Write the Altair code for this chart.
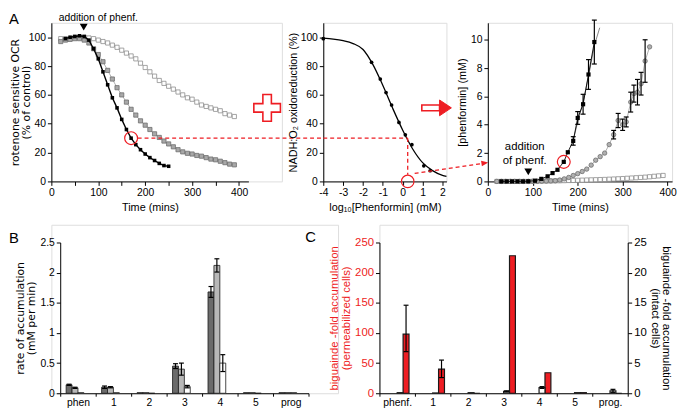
import altair as alt
import pandas as pd

FONT = "Liberation Sans"
WIDE = "DejaVu Sans"
RED = "#ee1d23"

# ---------------- data ----------------
# Panel A (left): rotenone sensitive OCR (% of control) vs time
a1_t_black = [30, 40, 50, 60, 70, 80, 90, 100, 110, 120, 130, 140, 150, 160, 170, 180, 190, 200, 210, 220, 230, 240, 250]
a1_y_black = [99, 100, 100.5, 101, 100.5, 98, 92, 85, 76, 67, 58, 51, 43, 36, 30, 25.5, 22, 19, 16.5, 14.5, 12.5, 11, 10.5]
a1_t_grey = [20, 30, 40, 50, 60, 70, 80, 90, 100, 110, 120, 130, 140, 150, 160, 170, 180, 190, 200, 210,
             220, 230, 240, 250, 260, 270, 280, 290, 300, 310, 320, 330, 340, 350, 360, 370, 380, 390]
a1_y_grey = [97, 98, 98.5, 99, 99, 98, 96, 92, 88, 83, 77, 71, 65, 60, 55, 50, 46, 42, 39, 36,
             33, 30.5, 28, 26, 24, 22, 20.5, 19.5, 19, 18, 17.5, 16.5, 15.5, 15, 14, 13, 12, 11.5]
a1_t_light = [20, 30, 40, 50, 60, 70, 80, 90, 100, 110, 120, 130, 140, 150, 160, 170, 180, 190, 200, 210,
              220, 230, 240, 250, 260, 270, 280, 290, 300, 310, 320, 330, 340, 350, 360, 370, 380, 390]
a1_y_light = [99, 99, 99, 100, 100, 100, 99.5, 99, 98, 97, 96, 94.5, 93, 91, 89, 87, 85, 82, 79, 76,
              73, 70, 68, 66, 64, 62, 60, 58, 57, 55, 53, 52, 51, 50, 49, 47, 46, 45]

# Panel A (middle): NADH:O2 oxidoreduction vs log10[phenformin]
a2_x = [-4.0, -1.57, -1.13, -0.84, -0.56, -0.19, 0.13, 0.46, 1.06, 1.38]
a2_y = [99, 82.6, 71, 61.6, 53, 40.9, 32.3, 25.5, 10.8, 7.4]
a2_curve_x = [-4, -3.5, -3, -2.5, -2, -1.5, -1, -0.5, 0, 0.5, 1, 1.5, 2, 2.2]
a2_curve_y = [99.3, 98.7, 97.6, 95.6, 91.5, 81, 66.5, 50.5, 35.5, 22.5, 13, 7.5, 4.2, 3.5]

# Panel A (right): [phenformin] (mM) vs time
a3_t_black = [30, 42, 54, 66, 78, 90, 105, 119, 133, 144, 155, 169, 178, 190, 200, 212, 224, 237]
a3_y_black = [0, 0, 0, 0, 0, 0.01, 0.05, 0.18, 0.36, 0.59, 0.82, 1.38, 2.06, 2.86, 4.48, 5.45, 7.55, 9.84]
a3_e_black = [0, 0, 0, 0, 0, 0, 0, 0, 0, 0, 0, 0, 0, 0.3, 0.45, 0.7, 1.05, 1.55]
a3_fit_black_t = [190, 200, 212, 224, 237, 249]
a3_fit_black_y = [2.9, 4.2, 5.6, 7.4, 9.6, 10.85]
a3_t_grey = [20, 30, 40, 50, 60, 70, 80, 90, 100, 110, 120, 130, 140, 150, 160, 170, 180, 190, 200, 210,
             220, 230, 240, 250, 260, 270, 280, 290, 300, 308, 318, 325, 333, 341, 350, 360]
a3_y_grey = [0, 0, 0, 0, 0, 0, 0, 0, 0.01, 0.01, 0.02, 0.03, 0.04, 0.05, 0.1, 0.18, 0.28, 0.42, 0.55, 0.7,
             0.87, 1.15, 1.5, 1.75, 2.0, 2.6, 3.3, 4.3, 4.0, 4.2, 5.6, 6.2, 6.3, 6.9, 8.5, 9.5]
a3_e_grey = [0, 0, 0, 0, 0, 0, 0, 0, 0, 0, 0, 0, 0, 0, 0, 0, 0, 0, 0, 0,
             0, 0, 0, 0, 0, 0, 0.3, 0.5, 0.4, 0.35, 0.7, 0.6, 0.9, 0.8, 1.5, 0]
a3_t_light = [20, 30, 40, 50, 60, 70, 80, 90, 100, 110, 120, 130, 140, 150, 160, 170, 180, 190, 200, 210,
              220, 230, 240, 250, 260, 270, 280, 290, 300, 310, 320, 330, 340, 350, 360, 370, 380, 390]
a3_y_light = [0, 0, 0, 0, 0, 0, 0, 0, 0.01, 0.015, 0.02, 0.025, 0.03, 0.04, 0.045, 0.055, 0.065, 0.07, 0.08, 0.09,
              0.1, 0.11, 0.12, 0.13, 0.14, 0.155, 0.17, 0.185, 0.2, 0.22, 0.24, 0.26, 0.28, 0.3, 0.33, 0.36, 0.39, 0.42]

# Panel B: rate of accumulation
b_cats = ["phen", "1", "2", "3", "4", "5", "prog"]
b_dark = [0.14, 0.10, 0.01, 0.45, 1.68, 0.01, 0.01]
b_dark_err = [0.01, 0.02, 0, 0.04, 0.09, 0, 0]
b_light = [0.09, 0.10, 0.01, 0.40, 2.12, 0.01, 0.01]
b_light_err = [0.01, 0.01, 0, 0.10, 0.11, 0, 0]
b_white = [0.01, 0.01, 0.0, 0.11, 0.50, 0.0, 0.01]
b_white_err = [0, 0, 0, 0.02, 0.14, 0, 0]

# Panel C: biguanide fold accumulation
c_cats = ["phenf.", "1", "2", "3", "4", "5", "prog."]
c_red = [98, 40, 0, 228, 34, 1, 0]
c_red_lo = [69, 26, 0, 228, 34, 1, 0]
c_red_hi = [146, 55, 0, 228, 34, 1, 0]
c_white = [0.1, 0.05, 0.1, 0.3, 0.95, 0.1, 0.4]
c_white_lo = [0.1, 0.05, 0.1, 0.2, 0.8, 0.1, 0.15]
c_white_hi = [0.1, 0.05, 0.1, 0.4, 1.1, 0.1, 0.65]

# annotation anchors (data coordinates)
a1_circle = (170, 30)
a1_dash_start = 184
a1_arrow = (69, 107)
a1_label = (100, 113.5)
a2_circle = (0.25, 0)
a3_circle = (169, 1.38)
a3_arrow = (90, 0.68)
a3_label = (82, 2.4, 1.45)

# ---------------- layout constants ----------------
GAP = 42
A1_W, A1_PW, H1 = 234, 200, 161
A2_W = 125
A3_W = 187
B_W, B_L, B_R = 291, 9, 261
C_W = 252
H2, H2_TOP = 171, 18

CROSS = "M-0.32,-1L0.32,-1L0.32,-0.32L1,-0.32L1,0.32L0.32,0.32L0.32,1L-0.32,1L-0.32,0.32L-1,0.32L-1,-0.32L-0.32,-0.32Z"
SHAFT = "M-1,-0.33L1,-0.33L1,0.33L-1,0.33Z"
HEAD = "M-0.75,-1L0.75,0L-0.75,1Z"
SMALLHEAD = "M-1,-0.8L1,0L-1,0.8Z"

one = pd.DataFrame({"k": [0]})


def ax(**kw):
    base = dict(grid=False, domainColor="black", tickColor="black", labelColor="black",
                titleColor="black", labelFont=FONT, titleFont=FONT, labelFontSize=10.5,
                titleFontSize=11, titleFontWeight="normal", tickSize=4, labelPadding=2,
                labelFlush=False, labelOverlap=False, domainWidth=1, tickWidth=1)
    base.update(kw)
    return alt.Axis(**base)


def line_points(df, X, Y, line_kw, pt_kw):
    l = alt.Chart(df).mark_line(**line_kw).encode(x=X, y=Y)
    p = alt.Chart(df).mark_point(opacity=1, **pt_kw).encode(x=X, y=Y)
    return [l, p]


def text_val(s, x, y, size=15):
    return alt.Chart(one).mark_text(text=s, font=FONT, fontSize=size, align="center",
                                    baseline="middle", color="black").encode(x=alt.value(x), y=alt.value(y))


dash = dict(color=RED, strokeDash=[4, 3], strokeWidth=1.3, opacity=1)

# ---------------- A1 ----------------
sx1 = alt.Scale(domain=[0, 420], range=[0, A1_PW], nice=False)
sy1 = alt.Scale(domain=[0, 110], nice=False)
ax1x = ax(values=[0, 50, 100, 150, 200, 250, 300, 350, 400],
          labelExpr="datum.value % 100 == 0 ? datum.label : ''", title="Time (mins)")
ax1y = ax(values=[0, 20, 40, 60, 80, 100], title=["rotenone sensitive OCR", "(% of control)"],
          titleFont=WIDE, titleFontSize=11, titleLineHeight=11, titlePadding=-3)
X1 = alt.X("t:Q", scale=sx1, axis=ax1x)
Y1 = alt.Y("v:Q", scale=sy1, axis=ax1y)
d_black = pd.DataFrame({"t": a1_t_black, "v": a1_y_black})
d_grey = pd.DataFrame({"t": a1_t_grey, "v": a1_y_grey})
d_light = pd.DataFrame({"t": a1_t_light, "v": a1_y_light})

a1_layers = []
a1_layers += line_points(d_light, X1, Y1, dict(color="#bdbdbd", strokeWidth=0.8),
                         dict(shape="square", filled=True, fill="white", stroke="#8c8c8c", strokeWidth=0.8, size=18))
a1_layers += line_points(d_grey, X1, Y1, dict(color="#9a9a9a", strokeWidth=0.8),
                         dict(shape="square", filled=True, fill="#a8a8a8", stroke="#6c6c6c", strokeWidth=0.8, size=18))
a1_layers += line_points(d_black, X1, Y1, dict(color="black", strokeWidth=1.4),
                         dict(shape="square", filled=True, color="black", size=13))
a1_layers.append(alt.Chart(pd.DataFrame({"t": [a1_dash_start], "v": [a1_circle[1]]})).mark_rule(**dash).encode(
    x=X1, x2=alt.value(A1_W + GAP), y=Y1))
a1_layers.append(alt.Chart(pd.DataFrame({"t": [a1_circle[0]], "v": [a1_circle[1]]})).mark_point(
    shape="circle", filled=False, color=RED, size=170, strokeWidth=1.2, opacity=1).encode(x=X1, y=Y1))
a1_layers.append(alt.Chart(pd.DataFrame({"t": [a1_arrow[0]], "v": [a1_arrow[1]]})).mark_point(
    shape="triangle-down", filled=True, color="black", size=64, opacity=1).encode(x=X1, y=Y1))
a1_layers.append(alt.Chart(pd.DataFrame({"t": [a1_label[0]], "v": [a1_label[1]]})).mark_text(
    text="addition of phenf.", font=FONT, fontSize=10.5, align="center", baseline="middle").encode(x=X1, y=Y1))
a1_layers.append(text_val("A", -38, -4))
A1 = alt.layer(*a1_layers).properties(width=A1_W, height=H1)

# ---------------- A2 ----------------
sx2 = alt.Scale(domain=[-4, 2.2], nice=False)
sy2 = alt.Scale(domain=[0, 110], nice=False)
ax2x = ax(values=[-4, -3, -2, -1, 0, 1, 2], labelExpr="'' + datum.value", title="log₁₀[Phenformin] (mM)")
ax2y = ax(values=[0, 20, 40, 60, 80, 100], title="NADH:O₂ oxidoreduction (%)", titlePadding=2)
X2 = alt.X("x:Q", scale=sx2, axis=ax2x)
Y2 = alt.Y("y:Q", scale=sy2, axis=ax2y)
d_a2 = pd.DataFrame({"x": a2_x, "y": a2_y})
d_a2c = pd.DataFrame({"x": a2_curve_x, "y": a2_curve_y})
d_h = pd.DataFrame({"x": [-4], "x2": [a2_circle[0]], "y": [a1_circle[1]]})
d_v = pd.DataFrame({"x": [a2_circle[0]], "y": [a1_circle[1]], "y2": [4.6]})
d_c2 = pd.DataFrame({"x": [a2_circle[0]], "y": [a2_circle[1]]})
d_arr = pd.DataFrame({"x": [0.6], "y": [5.5], "y2": [12.4]})
d_head = pd.DataFrame({"y": [12.8]})
d_mid = pd.DataFrame({"y": [51]})
a2_layers = [
    alt.Chart(d_a2c).mark_line(color="black", strokeWidth=1.3, interpolate="monotone").encode(x=X2, y=Y2),
    alt.Chart(d_a2).mark_point(shape="circle", filled=True, color="black", size=14, opacity=1).encode(x=X2, y=Y2),
    alt.Chart(d_h).mark_rule(**dash).encode(x=X2, x2="x2:Q", y=Y2),
    alt.Chart(d_v).mark_rule(**dash).encode(x=X2, y=Y2, y2="y2:Q"),
    alt.Chart(d_c2).mark_point(shape="circle", filled=False, color=RED, size=160, strokeWidth=1.2, opacity=1).encode(x=X2, y=Y2),
    alt.Chart(d_arr).mark_rule(**dash).encode(x=X2, y=Y2, x2=alt.value(A2_W + GAP - 6), y2="y2:Q"),
    alt.Chart(d_head).mark_point(shape=SMALLHEAD, filled=True, color=RED, size=49, angle=351, opacity=1).encode(
        x=alt.value(A2_W + GAP - 3), y=Y2),
    alt.Chart(d_mid).mark_point(shape=CROSS, filled=True, fill="white", stroke=RED, strokeWidth=1.6, size=729, opacity=1).encode(
        x=alt.value(-57), y=Y2),
    alt.Chart(d_mid).mark_point(shape=SHAFT, filled=True, fill="white", stroke=RED, strokeWidth=1.6, size=324, opacity=1).encode(
        x=alt.value(109), y=Y2),
    alt.Chart(d_mid).mark_point(shape=HEAD, filled=True, fill=RED, stroke=RED, strokeWidth=1, size=256, opacity=1).encode(
        x=alt.value(124), y=Y2),
]
A2 = alt.layer(*a2_layers).properties(width=A2_W, height=H1)

# ---------------- A3 ----------------
sx3 = alt.Scale(domain=[0, 410], nice=False)
sy3 = alt.Scale(domain=[0, 11.2], nice=False)
ax3x = ax(values=[0, 100, 200, 300, 400], title="Time (mins)")
ax3y = ax(values=[0, 2, 4, 6, 8, 10], title="[phenformin] (mM)", titlePadding=3)
X3 = alt.X("t:Q", scale=sx3, axis=ax3x)
Y3 = alt.Y("v:Q", scale=sy3, axis=ax3y)
d3_black = pd.DataFrame({"t": a3_t_black, "v": a3_y_black, "e": a3_e_black})
d3_grey = pd.DataFrame({"t": a3_t_grey, "v": a3_y_grey, "e": a3_e_grey})
d3_light = pd.DataFrame({"t": a3_t_light, "v": a3_y_light})
d3_fit = pd.DataFrame({"t": a3_fit_black_t, "v": a3_fit_black_y})
err3 = pd.concat([d3_black[d3_black.e > 0], d3_grey[d3_grey.e > 0]])
err3 = err3.assign(lo=err3.v - err3.e, hi=err3.v + err3.e)

a3_layers = []
a3_layers += line_points(d3_light, X3, Y3, dict(color="#bdbdbd", strokeWidth=0.8),
                         dict(shape="square", filled=True, fill="white", stroke="#8c8c8c", strokeWidth=0.8, size=18))
a3_layers += line_points(d3_grey, X3, Y3, dict(color="#9a9a9a", strokeWidth=0.8),
                         dict(shape="circle", filled=True, fill="#b0b0b0", stroke="#6c6c6c", strokeWidth=0.8, size=20))
a3_layers.append(alt.Chart(d3_fit).mark_line(color="#777777", strokeWidth=0.9).encode(x=X3, y=Y3))
a3_layers += line_points(d3_black, X3, Y3, dict(color="black", strokeWidth=0.9),
                         dict(shape="square", filled=True, color="black", size=18))
a3_layers.append(alt.Chart(err3).mark_rule(color="black", strokeWidth=1.2).encode(
    x=X3, y=alt.Y("lo:Q", scale=sy3, axis=ax3y), y2="hi:Q"))
a3_layers.append(alt.Chart(err3).mark_point(shape="stroke", color="black", size=25, opacity=1, strokeWidth=1.2).encode(
    x=X3, y=alt.Y("lo:Q", scale=sy3, axis=ax3y)))
a3_layers.append(alt.Chart(err3).mark_point(shape="stroke", color="black", size=25, opacity=1, strokeWidth=1.2).encode(
    x=X3, y=alt.Y("hi:Q", scale=sy3, axis=ax3y)))
a3_layers.append(alt.Chart(pd.DataFrame({"t": [a3_circle[0]], "v": [a3_circle[1]]})).mark_point(
    shape="circle", filled=False, color=RED, size=170, strokeWidth=1.2, opacity=1).encode(x=X3, y=Y3))
a3_layers.append(alt.Chart(pd.DataFrame({"t": [a3_label[0], a3_label[0]], "v": [a3_label[1], a3_label[2]],
                                         "s": ["addition", "of phenf."]})).mark_text(
    font=FONT, fontSize=11.5, align="center", baseline="middle").encode(x=X3, y=Y3, text="s:N"))
a3_layers.append(alt.Chart(pd.DataFrame({"t": [a3_arrow[0]], "v": [a3_arrow[1]]})).mark_point(
    shape="triangle-down", filled=True, color="black", size=64, opacity=1).encode(x=X3, y=Y3))
A3 = alt.layer(*a3_layers).properties(width=A3_W, height=H1)

# ---------------- B ----------------
b_rows = []
for i, c in enumerate(b_cats):
    for s, vals, errs in (("dark", b_dark, b_dark_err), ("light", b_light, b_light_err), ("white", b_white, b_white_err)):
        b_rows.append({"cat": c, "s": s, "v": vals[i], "lo": vals[i] - errs[i], "hi": vals[i] + errs[i], "e": errs[i]})
d_b = pd.DataFrame(b_rows)
d_b_err = d_b[d_b.e > 0]

sxB = alt.Scale(domain=b_cats, range=[B_L, B_R], paddingInner=0, paddingOuter=0)
axBx = ax(title=None, labelAngle=0, tickBand="extent", tickSize=3, labelPadding=1)
XB = alt.X("cat:N", sort=b_cats, scale=sxB, axis=axBx)
XOB = alt.XOffset("s:N", sort=["dark", "light", "white"],
                  scale=alt.Scale(domain=["dark", "light", "white"], paddingInner=0, paddingOuter=1.0))
syB = alt.Scale(domain=[0, 2.5], range=[H2, H2_TOP], nice=False)
axBy = ax(values=[0, 0.5, 1, 1.5, 2, 2.5], format="~g", offset=-B_L,
          title=["rate of accumulation", "(mM per min)"], titleFont=WIDE, titleFontSize=11,
          titleLineHeight=12, titlePadding=3)
YB = alt.Y("v:Q", scale=syB, axis=axBy)
b_layers = [
    alt.Chart(d_b).mark_bar(stroke="#1a1a1a", strokeWidth=0.8).encode(
        x=XB, xOffset=XOB, y=YB,
        color=alt.Color("s:N", scale=alt.Scale(domain=["dark", "light", "white"],
                                                range=["#6b6b6b", "#b8b8b8", "#ffffff"]), legend=None)),
    alt.Chart(d_b_err).mark_rule(color="black", strokeWidth=1.2).encode(
        x=XB, xOffset=XOB, y=alt.Y("lo:Q", scale=syB, axis=axBy), y2="hi:Q"),
    alt.Chart(d_b_err).mark_point(shape="stroke", color="black", size=25, opacity=1, strokeWidth=1.2).encode(
        x=XB, xOffset=XOB, y=alt.Y("lo:Q", scale=syB, axis=axBy)),
    alt.Chart(d_b_err).mark_point(shape="stroke", color="black", size=25, opacity=1, strokeWidth=1.2).encode(
        x=XB, xOffset=XOB, y=alt.Y("hi:Q", scale=syB, axis=axBy)),
    text_val("B", -38, H2_TOP - 5),
]
B = alt.layer(*b_layers).properties(width=B_W, height=H2)

# ---------------- C ----------------
d_cr = pd.DataFrame({"cat": c_cats, "s": "red", "v": c_red, "lo": c_red_lo, "hi": c_red_hi})
d_cw = pd.DataFrame({"cat": c_cats, "s": "white", "v": c_white, "lo": c_white_lo, "hi": c_white_hi})
d_cr_err = d_cr[d_cr.hi > d_cr.lo]
d_cw_err = d_cw[d_cw.hi > d_cw.lo]

sxC = alt.Scale(domain=c_cats, range=[0, C_W], paddingInner=0, paddingOuter=0)
axCx = ax(title=None, labelAngle=0, tickBand="extent", tickSize=3, labelPadding=1)
XC = alt.X("cat:N", sort=c_cats, scale=sxC, axis=axCx)
XOC = alt.XOffset("s:N", sort=["red", "white"],
                  scale=alt.Scale(domain=["red", "white"], paddingInner=0, paddingOuter=0.45))
syL = alt.Scale(domain=[0, 250], range=[H2, H2_TOP], nice=False)
syR = alt.Scale(domain=[0, 25], range=[H2, H2_TOP], nice=False)
axL = ax(values=[0, 50, 100, 150, 200, 250], orient="left",
         title=["biguainde -fold accumulation", "(permeabilized cells)"],
         titleColor=RED, labelColor=RED, labelFontSize=11.5, titleFontSize=11.5, titleLineHeight=12, titlePadding=3)
axR = ax(values=[0, 5, 10, 15, 20, 25], orient="right",
         title=["biguainde -fold accumulation", "(intact cells)"],
         labelFontSize=11.5, titleFontSize=11.5, titleLineHeight=12, titlePadding=3)
YL = alt.Y("v:Q", scale=syL, axis=axL)
YR = alt.Y("v:Q", scale=syR, axis=axR)


def err_layers(d, XO, sy, axis):
    return [
        alt.Chart(d).mark_rule(color="black", strokeWidth=1.2).encode(
            x=XC, xOffset=XO, y=alt.Y("lo:Q", scale=sy, axis=axis), y2="hi:Q"),
        alt.Chart(d).mark_point(shape="stroke", color="black", size=25, opacity=1, strokeWidth=1.2).encode(
            x=XC, xOffset=XO, y=alt.Y("lo:Q", scale=sy, axis=axis)),
        alt.Chart(d).mark_point(shape="stroke", color="black", size=25, opacity=1, strokeWidth=1.2).encode(
            x=XC, xOffset=XO, y=alt.Y("hi:Q", scale=sy, axis=axis)),
    ]


c_left = alt.layer(
    alt.Chart(d_cr).mark_bar(color=RED, stroke="#1a1a1a", strokeWidth=1.2).encode(x=XC, xOffset=XOC, y=YL),
    *err_layers(d_cr_err, XOC, syL, axL),
    text_val("C", -70, H2_TOP - 6),
)
c_right = alt.layer(
    alt.Chart(d_cw).mark_bar(color="white", stroke="#1a1a1a", strokeWidth=1.2).encode(x=XC, xOffset=XOC, y=YR),
    *err_layers(d_cw_err, XOC, syR, axR),
)
C = alt.layer(c_left, c_right).resolve_scale(y="independent").properties(width=C_W, height=H2)

top = alt.hconcat(A1, A2, A3, spacing=GAP, bounds="flush")
bottom = alt.hconcat(B, C, spacing=GAP, bounds="flush")
chart = alt.vconcat(top, bottom, spacing=11).properties(
    padding=0
).configure_view(stroke=None).configure(font=FONT)

chart.save("out.html", embed_options={"renderer": "svg", "actions": False})
